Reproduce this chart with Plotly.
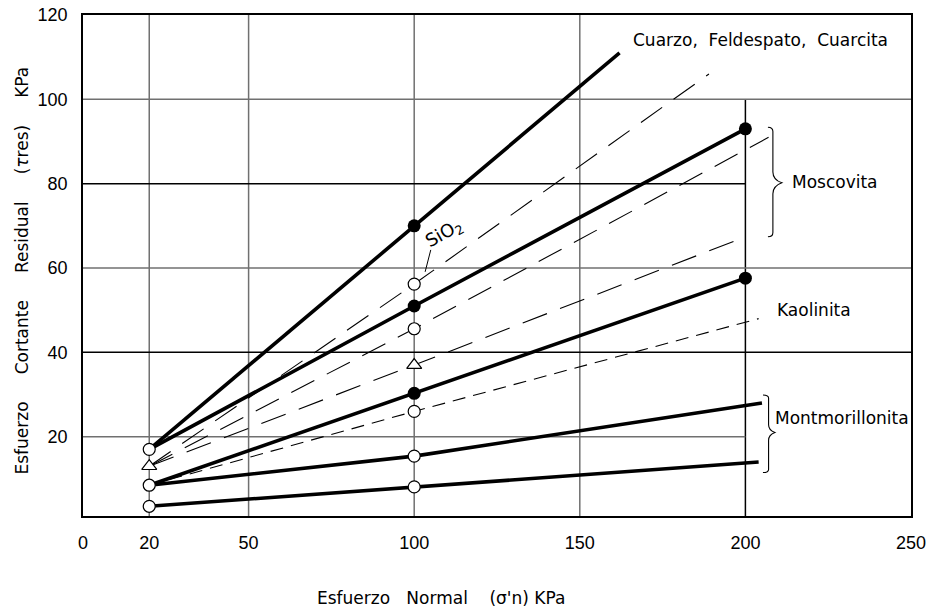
import plotly.graph_objects as go

# ---------------- data ----------------
x_ticks = [0, 20, 50, 100, 150, 200, 250]
y_ticks = [20, 40, 60, 80, 100, 120]

cuarzo_x = [20, 100, 162]
cuarzo_y = [17, 70, 111]

moscovita_x = [20, 100, 200]
moscovita_y = [17, 51, 93]

sio2_dash_x = [20, 100, 189]
sio2_dash_y = [13, 56.2, 106]

mosc_dash2_x = [20, 100, 207]
mosc_dash2_y = [13, 45.6, 91]

mosc_dash3_x = [20, 100, 200]
mosc_dash3_y = [13, 37, 67.4]

kaolinita_x = [20, 100, 200]
kaolinita_y = [8.5, 30.3, 57.6]

kaol_dash_x = [20, 100, 204]
kaol_dash_y = [8.5, 26, 48]

montmo1_x = [20, 100, 205]
montmo1_y = [8.5, 15.4, 28]

montmo2_x = [20, 100, 204]
montmo2_y = [3.5, 8.1, 14]

open_circ_x = [20, 20, 20, 100, 100, 100, 100, 100]
open_circ_y = [17, 8.5, 3.5, 56.2, 45.6, 26, 15.4, 8.1]

filled_circ_x = [100, 100, 100, 200, 200]
filled_circ_y = [70, 51, 30.3, 93, 57.6]

triangle_x = [20, 100]
triangle_y = [13, 37]

grid_x = [20, 50, 100, 150, 200]
grid_y = [20, 40, 60, 80, 100]

# ---------------- style ----------------
X0, X1 = 0, 250
Y0, Y1 = 1.2, 120
GREY = "#707070"
LABEL_FONT = dict(family="DejaVu Sans", size=17, color="black")
TITLE_FONT = dict(family="DejaVu Sans", size=17, color="black")
TICK_FONT = dict(family="Liberation Sans, Arial", size=18, color="black")

fig = go.Figure()

def line(xs, ys, width, dash="solid"):
    fig.add_trace(go.Scatter(x=xs, y=ys, mode="lines",
                             line=dict(color="black", width=width, dash=dash),
                             hoverinfo="skip", showlegend=False))

THICK = 3.6
THIN = 1.1
LONG = "26px,14px"
SHORT = "13px,8px"

line(sio2_dash_x, sio2_dash_y, THIN, LONG)
line(mosc_dash2_x, mosc_dash2_y, THIN, LONG)
line(mosc_dash3_x, mosc_dash3_y, THIN, LONG)
line(kaol_dash_x, kaol_dash_y, THIN, SHORT)
line(cuarzo_x, cuarzo_y, THICK)
line(moscovita_x, moscovita_y, THICK)
line(kaolinita_x, kaolinita_y, THICK)
line(montmo1_x, montmo1_y, THICK)
line(montmo2_x, montmo2_y, THICK)

fig.add_trace(go.Scatter(x=open_circ_x, y=open_circ_y, mode="markers",
                         marker=dict(symbol="circle", size=12, color="white",
                                     line=dict(color="black", width=1.2)),
                         hoverinfo="skip", showlegend=False))
fig.add_trace(go.Scatter(x=filled_circ_x, y=filled_circ_y, mode="markers",
                         marker=dict(symbol="circle", size=13, color="black",
                                     line=dict(color="black", width=0)),
                         hoverinfo="skip", showlegend=False))
fig.add_trace(go.Scatter(x=triangle_x, y=triangle_y, mode="markers",
                         marker=dict(symbol="triangle-up", size=13, color="white",
                                     line=dict(color="black", width=1.2)),
                         hoverinfo="skip", showlegend=False))

shapes = []
# vertical grid lines
for gx in grid_x:
    top = 100 if gx == 200 else Y1
    col = "black" if gx == 200 else GREY
    shapes.append(dict(type="line", xref="x", yref="y", x0=gx, x1=gx, y0=Y0, y1=top,
                       line=dict(color=col, width=1.5), layer="below"))
# horizontal grid lines
for gy in grid_y:
    right = 200 if gy in (20, 80) else X1
    col = "black" if gy in (40, 80) else GREY
    shapes.append(dict(type="line", xref="x", yref="y", x0=X0, x1=right, y0=gy, y1=gy,
                       line=dict(color=col, width=1.5), layer="below"))

def brace(xh, xv, xt, ytop, ymid, ybot):
    d = (ytop - ybot) * 0.04
    e = (ytop - ybot) * 0.10
    return (f"M {xh},{ytop} Q {xv},{ytop} {xv},{ytop-d} "
            f"L {xv},{ymid+e} Q {xv},{ymid+e*0.3} {xt},{ymid} "
            f"Q {xv},{ymid-e*0.3} {xv},{ymid-e} "
            f"L {xv},{ybot+d} Q {xv},{ybot} {xh},{ybot}")

shapes.append(dict(type="path", xref="x", yref="y",
                   path=brace(206.8, 208.3, 211.0, 93.4, 80.2, 67.4),
                   line=dict(color="black", width=1.1)))
shapes.append(dict(type="path", xref="x", yref="y",
                   path=brace(205.3, 207.0, 208.9, 29.9, 21.0, 11.5),
                   line=dict(color="black", width=1.1)))
# SiO2 leader
shapes.append(dict(type="line", xref="x", yref="y", x0=103.3, y0=59.1, x1=105.0, y1=64.3,
                   line=dict(color="black", width=1)))
fig.update_layout(shapes=shapes)

ann = [
    dict(x=204.5, y=114.1, text="Cuarzo,&nbsp; Feldespato,&nbsp; Cuarcita", xanchor="center"),
    dict(x=213.6, y=80.4, text="Moscovita", xanchor="left"),
    dict(x=209.0, y=50.0, text="Kaolinita", xanchor="left"),
    dict(x=208.3, y=24.4, text="Montmorillonita", xanchor="left"),
]
annotations = []
for a in ann:
    annotations.append(dict(xref="x", yref="y", showarrow=False, yanchor="middle",
                            font=LABEL_FONT, **a))
annotations.append(dict(xref="x", yref="y", x=109.0, y=68.0, text="SiO<sub>2</sub>",
                        textangle=-30, showarrow=False,
                        font=dict(family="DejaVu Sans", size=18, color="black")))
annotations.append(dict(xref="paper", yref="paper", x=0.4326, y=-0.1637,
                        text="Esfuerzo&nbsp;&nbsp; Normal&nbsp;&nbsp;&nbsp; (σ'n) KPa",
                        showarrow=False, font=TITLE_FONT, xanchor="center", yanchor="middle"))
annotations.append(dict(xref="paper", yref="paper", x=-0.0737, y=0.49,
                        text="Esfuerzo&nbsp;&nbsp;&nbsp;&nbsp; Cortante&nbsp;&nbsp;&nbsp;&nbsp; Residual&nbsp;&nbsp;&nbsp;&nbsp; (<i>τ</i>res)&nbsp;&nbsp;&nbsp;&nbsp; KPa",
                        textangle=-90, showarrow=False, font=TITLE_FONT,
                        xanchor="center", yanchor="middle"))

fig.update_layout(
    width=930, height=611,
    margin=dict(l=83, r=19, t=15, b=95, autoexpand=False),
    paper_bgcolor="white", plot_bgcolor="white",
    annotations=annotations,
    hovermode=False,
    xaxis=dict(range=[X0, X1], tickvals=x_ticks, ticktext=[str(v) for v in x_ticks],
               showgrid=False, zeroline=False, showline=True, linecolor="black",
               linewidth=1.5, mirror=True, ticks="", tickfont=TICK_FONT,
               ticklabelstandoff=10, automargin=False),
    yaxis=dict(range=[Y0, Y1], tickvals=y_ticks, ticktext=[str(v) for v in y_ticks],
               showgrid=False, zeroline=False, showline=True, linecolor="black",
               linewidth=1.5, mirror=True, ticks="", tickfont=TICK_FONT,
               ticklabelstandoff=10, automargin=False),
)

fig.write_html("out.html", config={"displayModeBar": False},
               post_script="document.body.style.margin='0px';document.body.style.overflow='hidden';")
